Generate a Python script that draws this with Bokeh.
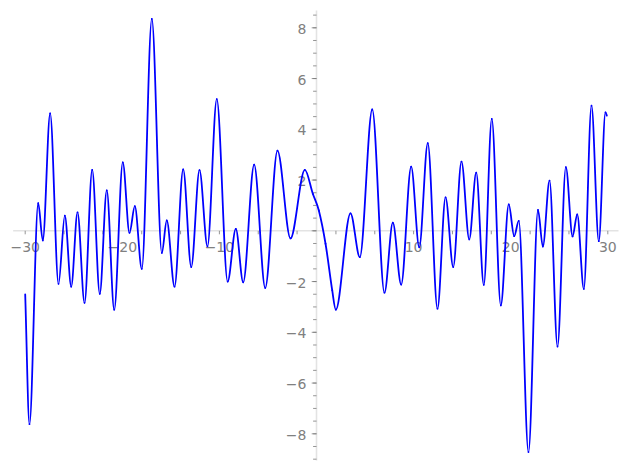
import numpy as np
from bokeh.plotting import figure
from bokeh.models import Range1d, ColumnDataSource
from bokeh.embed import file_html
from bokeh.resources import INLINE
from bokeh.core.properties import value

# ---- data (turning points and shape points of the curve)
curve_x = [-30.00, -29.56, -28.66, -28.19, -27.43, -26.57, -25.92, -25.26, -24.61, -23.89,
           -23.10, -22.32, -21.60, -20.83, -19.95, -19.26, -18.71, -17.99, -16.96, -15.93,
           -15.42, -14.62, -13.73, -12.90, -12.05, -11.23, -10.27, -9.15, -8.31, -7.55,
           -6.42, -5.28, -4.02, -2.68, -1.20, -0.38, 0.24, 0.93, 1.62, 1.99,
           3.50, 4.46, 5.74, 7.00, 7.86, 8.72, 9.75, 10.58, 11.46, 12.46,
           13.29, 14.08, 14.93, 15.73, 16.45, 17.23, 18.05, 18.98, 19.80, 20.36,
           20.83, 21.83, 22.81, 23.31, 24.00, 24.82, 25.68, 26.37, 26.85, 27.53,
           28.32, 29.07, 29.76, 29.90]
curve_y = [-2.51, -7.62, 1.09, -0.38, 4.63, -2.09, 0.60, -2.20, 0.73, -2.84,
           2.40, -2.48, 1.59, -3.11, 2.70, -0.08, 0.97, -1.50, 8.35, -0.87,
           0.41, -2.20, 2.42, -1.43, 2.39, -0.61, 5.19, -2.00, 0.08, -2.03,
           2.61, -2.25, 3.16, -0.30, 2.40, 1.46, 0.80, -0.51, -2.35, -3.11,
           0.69, -1.04, 4.78, -2.44, 0.32, -2.12, 2.53, -0.65, 3.45, -3.07,
           1.32, -1.43, 2.73, -0.34, 2.29, -2.13, 4.41, -2.94, 1.04, -0.21,
           0.39, -8.72, 0.82, -0.62, 1.98, -4.56, 2.51, -0.22, 0.65, -2.29,
           4.93, -0.41, 4.67, 4.54]

x_tick_values = list(range(-30, 31, 4))
x_label_values = [-30, -20, -10, 10, 20, 30]
x_label_texts = ["\u221230", "\u221220", "\u221210", "10", "20", "30"]
y_minor_values = list(np.arange(-9.0, 8.75, 0.5))
y_major_values = [-8, -6, -4, -2, 0, 2, 4, 6, 8]
y_label_values = [-8, -6, -4, -2, 2, 4, 6, 8]
y_label_texts = ["\u22128", "\u22126", "\u22124", "\u22122", "2", "4", "6", "8"]

# ---- figure
W, H = 627, 470
XR = (-32.544, 32.028)
YR = (-9.446, 9.076)
px = (XR[1] - XR[0]) / W   # data units per pixel, x
py = (YR[1] - YR[0]) / H   # data units per pixel, y

p = figure(width=W, height=H, x_range=Range1d(*XR), y_range=Range1d(*YR),
           output_backend="svg", toolbar_location=None, min_border=0,
           x_axis_type=None, y_axis_type=None)
p.outline_line_color = None
p.background_fill_color = "white"
p.border_fill_color = "white"

AXIS_COLOR = "#e3e3e3"
TICK_COLOR = "#7a7a7a"
LABEL_COLOR = "#808080"
FONT = value("DejaVu Sans")

# axis lines crossing at the origin
p.segment(x0=[-31.24], y0=[0], x1=[31.1], y1=[0], line_color=AXIS_COLOR, line_width=1.6)
p.segment(x0=[0], y0=[-9.05], x1=[0], y1=[8.68], line_color=AXIS_COLOR, line_width=1.6)

# x ticks
p.segment(x0=x_tick_values, y0=[0] * len(x_tick_values),
          x1=x_tick_values, y1=[-3.5 * py] * len(x_tick_values),
          line_color=TICK_COLOR, line_width=0.8)
# y ticks
p.segment(x0=[0] * len(y_minor_values), y0=y_minor_values,
          x1=[-3.4 * px] * len(y_minor_values), y1=y_minor_values,
          line_color=TICK_COLOR, line_width=0.8)
p.segment(x0=[0] * len(y_major_values), y0=y_major_values,
          x1=[-4.8 * px] * len(y_major_values), y1=y_major_values,
          line_color=TICK_COLOR, line_width=0.8)

# tick labels
p.text(x=x_label_values, y=[0] * len(x_label_values), text=x_label_texts,
       text_align="center", text_baseline="middle", y_offset=16.5,
       text_font=FONT, text_font_size="14px", text_color=LABEL_COLOR)
p.text(x=[0] * len(y_label_values), y=y_label_values, text=y_label_texts,
       text_align="right", text_baseline="middle", x_offset=-10, y_offset=1,
       text_font=FONT, text_font_size="14px", text_color=LABEL_COLOR)

# ---- curve: smooth cubic Bezier pieces through the read points
xs = np.array(curve_x)
ys = np.array(curve_y)
n = len(xs)
m = np.zeros(n)
for i in range(n):
    if i == 0:
        m[i] = (ys[1] - ys[0]) / (xs[1] - xs[0])
    elif i == n - 1:
        m[i] = (ys[-1] - ys[-2]) / (xs[-1] - xs[-2])
    elif (ys[i] - ys[i - 1]) * (ys[i + 1] - ys[i]) < 0:
        m[i] = 0.0
    else:
        m[i] = (ys[i + 1] - ys[i - 1]) / (xs[i + 1] - xs[i - 1])
dx = xs[1:] - xs[:-1]
src = ColumnDataSource(dict(
    x0=xs[:-1], y0=ys[:-1], x1=xs[1:], y1=ys[1:],
    cx0=xs[:-1] + dx / 3, cy0=ys[:-1] + m[:-1] * dx / 3,
    cx1=xs[1:] - dx / 3, cy1=ys[1:] - m[1:] * dx / 3,
))
p.bezier(x0="x0", y0="y0", x1="x1", y1="y1", cx0="cx0", cy0="cy0", cx1="cx1", cy1="cy1",
         source=src, line_color="#0000ff", line_width=1.8, line_cap="round")

open("out.html", "w").write(file_html(p, INLINE))
